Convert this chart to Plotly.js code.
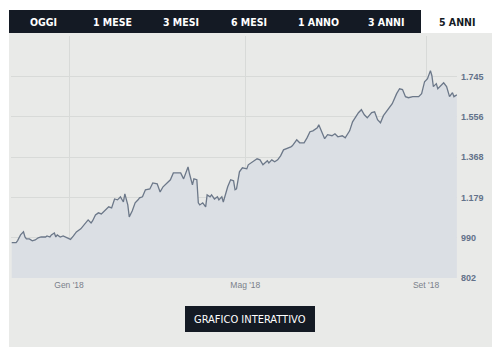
<!DOCTYPE html>
<html><head><meta charset="utf-8">
<script src="https://cdn.plot.ly/plotly-3.0.1.min.js"></script>
<style>html,body{margin:0;padding:0;background:#fff}#c{width:500px;height:359px}</style>
</head><body><div id="c"></div>
<script>
const dates = ["2017-11-23","2017-11-26","2017-11-27","2017-11-29","2017-12-01","2017-12-02","2017-12-03","2017-12-05","2017-12-07","2017-12-09","2017-12-11","2017-12-13","2017-12-16","2017-12-17","2017-12-19","2017-12-20","2017-12-22","2017-12-23","2017-12-24","2017-12-26","2017-12-28","2017-12-30","2018-01-02","2018-01-04","2018-01-06","2018-01-09","2018-01-11","2018-01-12","2018-01-14","2018-01-16","2018-01-17","2018-01-19","2018-01-21","2018-01-23","2018-01-26","2018-01-28","2018-01-30","2018-01-31","2018-02-01","2018-02-03","2018-02-05","2018-02-07","2018-02-08","2018-02-10","2018-02-11","2018-02-13","2018-02-15","2018-02-17","2018-02-18","2018-02-20","2018-02-22","2018-02-25","2018-02-27","2018-03-02","2018-03-04","2018-03-06","2018-03-09","2018-03-11","2018-03-13","2018-03-16","2018-03-18","2018-03-20","2018-03-23","2018-03-24","2018-03-26","2018-03-27","2018-03-29","2018-03-30","2018-03-31","2018-04-02","2018-04-04","2018-04-05","2018-04-07","2018-04-08","2018-04-10","2018-04-12","2018-04-13","2018-04-15","2018-04-16","2018-04-19","2018-04-21","2018-04-23","2018-04-24","2018-04-25","2018-04-27","2018-04-29","2018-05-02","2018-05-03","2018-05-06","2018-05-09","2018-05-11","2018-05-13","2018-05-16","2018-05-17","2018-05-19","2018-05-21","2018-05-23","2018-05-25","2018-05-27","2018-05-29","2018-06-01","2018-06-02","2018-06-05","2018-06-07","2018-06-10","2018-06-12","2018-06-14","2018-06-16","2018-06-19","2018-06-20","2018-06-22","2018-06-24","2018-06-26","2018-06-29","2018-07-01","2018-07-03","2018-07-06","2018-07-08","2018-07-11","2018-07-13","2018-07-17","2018-07-19","2018-07-21","2018-07-23","2018-07-26","2018-07-28","2018-07-30","2018-08-01","2018-08-03","2018-08-06","2018-08-09","2018-08-12","2018-08-14","2018-08-16","2018-08-18","2018-08-20","2018-08-23","2018-08-27","2018-08-29","2018-08-31","2018-09-02","2018-09-04","2018-09-05","2018-09-06","2018-09-08","2018-09-09","2018-09-12","2018-09-13","2018-09-15","2018-09-17","2018-09-19","2018-09-20","2018-09-22"];
const values = [968,968,977,1004,1018,994,985,985,976,980,990,994,994,999,994,1004,1013,994,1004,994,999,994,983,999,1018,1032,1051,1060,1074,1060,1069,1097,1107,1102,1121,1135,1130,1154,1172,1168,1182,1158,1196,1144,1088,1116,1154,1168,1177,1182,1215,1219,1247,1243,1205,1229,1247,1262,1294,1294,1294,1266,1322,1290,1238,1266,1262,1154,1144,1154,1135,1191,1182,1191,1172,1182,1168,1182,1158,1229,1262,1257,1215,1219,1299,1318,1313,1332,1346,1360,1355,1332,1351,1341,1355,1346,1355,1374,1402,1407,1416,1421,1449,1435,1435,1458,1487,1491,1505,1519,1487,1454,1473,1468,1477,1463,1468,1458,1491,1533,1576,1590,1566,1552,1576,1580,1543,1529,1562,1590,1618,1665,1688,1684,1651,1646,1651,1651,1665,1721,1735,1773,1749,1698,1712,1688,1707,1716,1698,1651,1670,1651,1660];
const yTickVals = [802,990,1179,1368,1556,1745];
const yTickText = ["802","990","1.179","1.368","1.556","1.745"];
const xTickVals = ["2018-01-01","2018-05-01","2018-09-01"];
const xTickText = ["Gen '18","Mag '18","Set '18"];
const tabs = ["OGGI","1 MESE","3 MESI","6 MESI","1 ANNO","3 ANNI","5 ANNI"];
const buttonLabel = "GRAFICO INTERATTIVO";

// pixel helpers for decorations (plot area: x 11..457, y 36..278)
const PX = p => (p - 11) / 446;
const PY = p => (278 - p) / 242;
const tabCenters = [43,112,181,249,318,386,457];

const shapes = [
  {type:'rect', xref:'paper', yref:'paper', layer:'below', x0:PX(9), x1:PX(492), y0:PY(347), y1:PY(33), fillcolor:'#e9eae8', line:{width:0}},
  {type:'rect', xref:'paper', yref:'paper', layer:'below', x0:PX(9), x1:PX(421), y0:PY(33), y1:PY(10), fillcolor:'#141a24', line:{width:0}},
  {type:'rect', xref:'paper', yref:'paper', layer:'below', x0:PX(185), x1:PX(315), y0:PY(332), y1:PY(306), fillcolor:'#141a24', line:{width:0}}
];
const annotations = tabs.map((t,i)=>({
  text: t, xref:'paper', yref:'paper', x: PX(tabCenters[i]), y: PY(21.5), xanchor:'center', yanchor:'middle', showarrow:false,
  font:{family:'DejaVu Sans Condensed, Liberation Sans Narrow, sans-serif', size:10.5, color: i===6 ? '#141a24' : '#ffffff', weight:'bold'}
}));
annotations.push({text: buttonLabel, xref:'paper', yref:'paper', x: PX(250), y: PY(319), xanchor:'center', yanchor:'middle', showarrow:false,
  font:{family:'Liberation Sans Narrow, DejaVu Sans Condensed, sans-serif', size:11, color:'#ffffff'}});

const trace = {
  x: dates, y: values, type:'scatter', mode:'lines',
  line:{color:'#6c7889', width:1.3, shape:'linear'},
  fill:'tozeroy', fillcolor:'#dbdfe4', hoverinfo:'skip'
};
const layout = {
  width:500, height:359, margin:{l:11, r:43, t:36, b:81},
  paper_bgcolor:'#ffffff', plot_bgcolor:'rgba(0,0,0,0)', showlegend:false,
  xaxis:{type:'date', range:['2017-11-22 12:00','2018-09-22 02:00'], tickvals:xTickVals, ticktext:xTickText,
    showgrid:true, gridcolor:'#d8dad8', gridwidth:1, zeroline:false, showline:false, ticks:'',
    tickfont:{family:'Liberation Sans, Arial, sans-serif', size:8.5, color:'#7a808a'}},
  yaxis:{side:'right', range:[802,1935], tickvals:yTickVals, ticktext:yTickText, showgrid:true, gridcolor:'#d8dad8', gridwidth:1,
    zeroline:false, showline:false, ticks:'', ticklabelstandoff:3,
    tickfont:{family:'Liberation Sans, Arial, sans-serif', size:9, color:'#63728a', weight:'bold'}},
  shapes: shapes, annotations: annotations
};
Plotly.newPlot('c', [trace], layout, {displayModeBar:false, staticPlot:true});
</script></body></html>
